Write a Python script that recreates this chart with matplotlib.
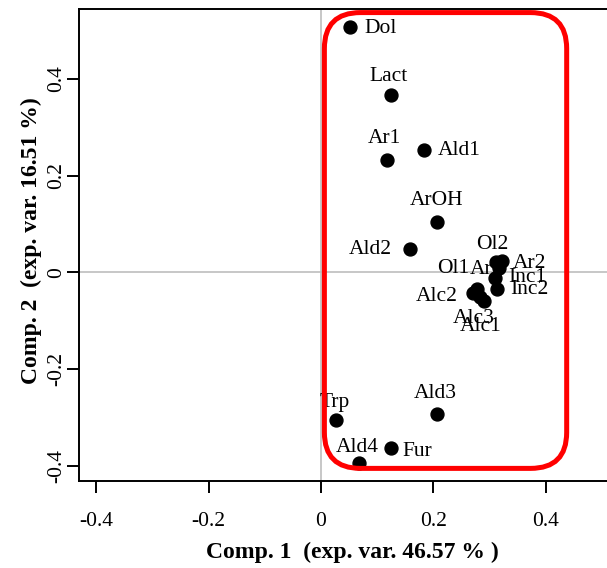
import matplotlib
matplotlib.use("Agg")
import matplotlib.pyplot as plt
from matplotlib.patches import FancyBboxPatch

plt.rcParams['font.family'] = ['Liberation Serif', 'DejaVu Serif']

# ---- data ----
labels = ["Dol", "Lact", "Ar1", "Ald1", "ArOH", "Ald2", "Ol2", "Ar2", "Ar",
          "Inc1", "Inc2", "Ol1", "Alc2", "Alc3", "Alc1", "Trp", "Ald3", "Ald4", "Fur"]
comp1 = [0.052, 0.124, 0.117, 0.184, 0.207, 0.158, 0.311, 0.322, 0.317,
         0.310, 0.313, 0.277, 0.270, 0.284, 0.291, 0.026, 0.207, 0.067, 0.124]
comp2 = [0.506, 0.366, 0.232, 0.253, 0.104, 0.048, 0.022, 0.023, 0.009,
         -0.011, -0.034, -0.034, -0.042, -0.051, -0.059, -0.304, -0.292, -0.393, -0.362]
xticks = [-0.4, -0.2, 0, 0.2, 0.4]
yticks = [-0.4, -0.2, 0, 0.2, 0.4]
tick_labels = ["-0.4", "-0.2", "0", "0.2", "0.4"]
xlabel = "Comp. 1  (exp. var. 46.57 % )"
ylabel = "Comp. 2  (exp. var. 16.51 %)"
# highlight region (data units)
box_x = [0.006, 0.4375]
box_y = [-0.404, 0.536]

# label placement: (dx px, dy px downwards, horizontal alignment)
label_pos = {
    "Dol": (14, 1, "left"), "Lact": (-2, -19, "center"), "Ar1": (-2, -21, "center"),
    "Ald1": (13, 1, "left"), "ArOH": (-1, -22, "center"), "Ald2": (-18, 0, "right"),
    "Ol2": (-3, -17, "center"), "Ar2": (11, 2, "left"), "Ar": (-7, 1, "right"),
    "Inc1": (13, 0, "left"), "Inc2": (13, 1, "left"), "Ol1": (-7, -20, "right"),
    "Alc2": (-15, 4, "right"), "Alc3": (-7, 21, "center"), "Alc1": (-4, 25, "center"),
    "Trp": (-1, -17, "center"), "Ald3": (-2, -21, "center"), "Ald4": (-1, -16, "center"),
    "Fur": (12, 3, "left"),
}

W, H = 607, 568
fig = plt.figure(figsize=(W / 100, H / 100), dpi=100)
left_px, right_px, top_px, bot_px = 79, 613, 8.7, 481
ax = fig.add_axes([left_px / W, (H - bot_px) / H, (right_px - left_px) / W, (bot_px - top_px) / H])
ax.set_xlim(-0.431, 0.520)
ax.set_ylim(-0.430, 0.544)

ax.axhline(0, color="#bdbdbd", lw=1.2, zorder=1)
ax.axvline(0, color="#bdbdbd", lw=1.2, zorder=1)

ax.plot(comp1, comp2, "o", color="black", ms=9.3, zorder=4, ls="none")
for lab, x, y in zip(labels, comp1, comp2):
    dx, dy, ha = label_pos[lab]
    ax.annotate(lab, (x, y), xytext=(dx, -dy), textcoords="offset pixels",
                ha=ha, va="center", fontsize=15.5, color="black", zorder=3)

R = 36
r = R / 560
box = FancyBboxPatch((box_x[0], box_y[0]), box_x[1] - box_x[0], box_y[1] - box_y[0],
                     boxstyle=f"round,pad=0,rounding_size={r}", mutation_aspect=560 / 485,
                     fill=False, edgecolor="#ff0000", lw=3.6, zorder=5)
ax.add_patch(box)

for s in ["left", "bottom", "top"]:
    ax.spines[s].set_linewidth(1.4)
ax.spines["right"].set_visible(False)

ax.set_xticks(xticks)
ax.set_xticklabels(tick_labels, fontsize=15.5)
ax.set_yticks(yticks)
ax.set_yticklabels(tick_labels, fontsize=15.5, rotation=90, va="center")
ax.tick_params(axis="x", length=8.5, width=1.4, pad=14, direction="out")
ax.tick_params(axis="y", length=8.5, width=1.4, pad=1.0, direction="out")

fig.text(352 / W, (H - 552) / H, xlabel, ha="center", va="center", fontsize=17, fontweight="bold")
fig.text(31 / W, (H - 241) / H, ylabel, ha="center", va="center", fontsize=17,
         fontweight="bold", rotation=90)

fig.savefig("out.png", dpi=100)
